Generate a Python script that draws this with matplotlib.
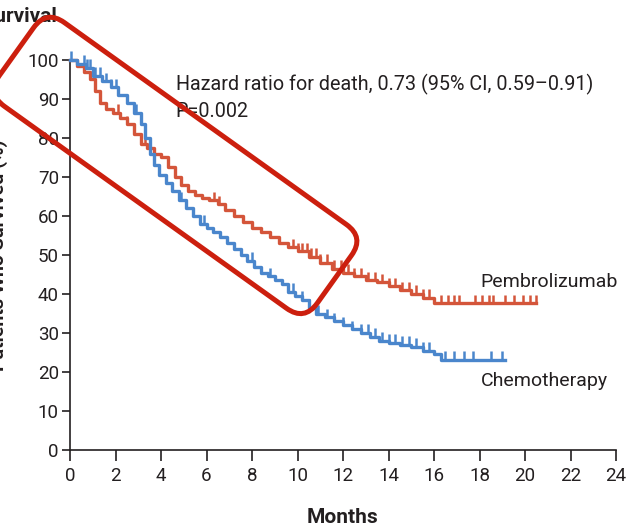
import numpy as np
import matplotlib
matplotlib.use("Agg")
import matplotlib.pyplot as plt
from matplotlib.patches import FancyBboxPatch
from matplotlib.transforms import Affine2D

# Kaplan-Meier estimates (months, % surviving)
pembro_t = [0, 0.3, 0.6, 0.9, 1.1, 1.3, 1.6, 1.9, 2.2, 2.5, 2.8, 3.1, 3.4, 3.7,
            4.0, 4.3, 4.6, 4.9, 5.2, 5.5, 5.8, 6.1, 6.5, 6.8, 7.2, 7.6, 8.0, 8.4,
            8.8, 9.2, 9.6, 10.0, 10.5, 11.0, 11.5, 12.0, 12.5, 13.0, 13.5, 14.0,
            14.5, 15.0, 15.5, 16.0, 20.5]
pembro_s = [100, 98.5, 97, 95, 92, 89, 87.5, 86.5, 85, 83.5, 81, 78.5, 77.5, 76,
            75, 72.5, 70, 68, 66.5, 65.5, 64.5, 64, 63, 61.5, 60, 58.5, 57, 56,
            54.5, 53, 52, 51, 49.5, 48, 46.5, 45.5, 44.5, 43.5, 43, 42, 41, 40,
            39, 37.6, 37.6]
pembro_cens = [0.9, 2.1, 2.5, 3.3, 6.35, 6.55, 9.8, 10.0, 10.2, 10.4, 10.6, 10.8,
               11.0, 11.3, 11.6, 11.9, 12.2, 12.5, 12.8, 13.1, 13.4, 13.7, 14.0,
               14.3, 14.6, 14.9, 15.2, 15.5, 15.8, 16.3, 16.6, 16.9, 17.1, 17.8,
               18.1, 18.4, 18.6, 19.1, 19.5, 19.9, 20.2, 20.5]

chemo_t = [0, 0.3, 0.7, 1.0, 1.4, 1.8, 2.1, 2.5, 2.8, 3.1, 3.3, 3.5, 3.7, 3.9,
           4.2, 4.5, 4.8, 5.1, 5.4, 5.7, 6.0, 6.3, 6.6, 6.9, 7.2, 7.5, 7.8, 8.1,
           8.4, 8.7, 9.0, 9.3, 9.6, 9.9, 10.2, 10.5, 10.8, 11.2, 11.6, 12.0,
           12.4, 12.8, 13.2, 13.6, 14.0, 14.5, 15.0, 15.5, 16.0, 16.3, 19.1]
chemo_s = [100, 99, 98, 96, 94.5, 93, 91, 89, 86.5, 83.5, 80, 76, 73, 70.5,
           68.5, 66.5, 64, 62, 60, 58, 57, 56, 54.5, 53, 51.5, 50, 48.5, 47,
           45.5, 44.5, 43.5, 42.5, 40.5, 39.5, 38.5, 36.5, 35, 34, 33, 32,
           31, 30, 29, 28, 27.5, 27, 26.5, 25.5, 24.5, 23.1, 23.1]
chemo_cens = [0.05, 0.6, 0.75, 0.9, 1.1, 1.3, 1.6, 1.8, 2.0, 2.9, 3.9, 4.9, 5.1,
              5.9, 8.0, 8.8, 9.8, 10.2, 10.5, 10.9, 11.3, 11.6, 12.0, 12.4, 12.8,
              13.1, 13.4, 13.7, 14.0, 14.3, 14.6, 14.9, 15.2, 15.5, 15.8, 16.5,
              16.9, 17.3, 17.7, 18.5, 19.0]

xticks = list(range(0, 25, 2))
yticks = list(range(0, 101, 10))

RED = "#d4553a"
BLUE = "#4a86cc"
INK = "#231f20"

plt.rcParams["font.family"] = ["Roboto", "DejaVu Sans"]

W, H = 629, 532
fig = plt.figure(figsize=(W / 100, H / 100), dpi=100)
ax = fig.add_axes([70 / W, 82 / H, 546 / W, 390 / H])


def surv_at(times, t, s):
    idx = np.searchsorted(t, times, side="right") - 1
    return np.asarray(s)[idx]


for t, s, cens, col in [(pembro_t, pembro_s, pembro_cens, RED),
                        (chemo_t, chemo_s, chemo_cens, BLUE)]:
    ax.step(t, s, where="post", color=col, lw=2.4, clip_on=False, zorder=3)
    sc = surv_at(cens, t, s)
    ax.vlines(cens, sc, sc + 2.2, color=col, lw=1.8, clip_on=False, zorder=3)

ax.set_xlim(0, 24)
ax.set_ylim(0, 100)
ax.set_xticks(xticks)
ax.set_yticks(yticks)
for side in ["top", "right"]:
    ax.spines[side].set_visible(False)
for side in ["left", "bottom"]:
    ax.spines[side].set_linewidth(1.2)
    ax.spines[side].set_color(INK)
ax.tick_params(axis="both", colors=INK, labelsize=13.5, width=1.2)
ax.tick_params(axis="y", length=6, pad=2)
ax.tick_params(axis="x", length=8, pad=4)

ax.text(4.65, 93.6, "Hazard ratio for death, 0.73 (95% CI, 0.59\u20130.91)",
        fontsize=14.2, color=INK, va="center")
ax.text(4.65, 86.7, "P=0.002", fontsize=14.2, color=INK, va="center")
ax.text(18.05, 43.0, "Pembrolizumab", fontsize=14, color=INK, va="center")
ax.text(18.05, 17.6, "Chemotherapy", fontsize=14, color=INK, va="center")

ax.set_xlabel("Months", fontsize=15, fontweight="bold", color=INK, labelpad=17)
fig.text(57 / W, 1 - 17 / H, "Overall Survival", fontsize=15,
         fontweight="bold", color=INK, ha="right", va="center")
fig.text(8 / W, 1 - 255 / H, "Patients Who Survived (%)", fontsize=14,
         fontweight="bold", color=INK, ha="right", va="center", rotation=90)

# highlight box around the early part of the curves
box = FancyBboxPatch((0, 0), 391, 103,
                     boxstyle="round,pad=0,rounding_size=22",
                     fill=False, edgecolor="#cc1f0e", lw=3.6, zorder=5,
                     transform=Affine2D().rotate_deg(-35.6)
                     .translate(-13.5, H - 93.5)
                     .scale(1 / W, 1 / H) + fig.transFigure)
fig.add_artist(box)

fig.savefig("out.png", dpi=100, facecolor="white")
